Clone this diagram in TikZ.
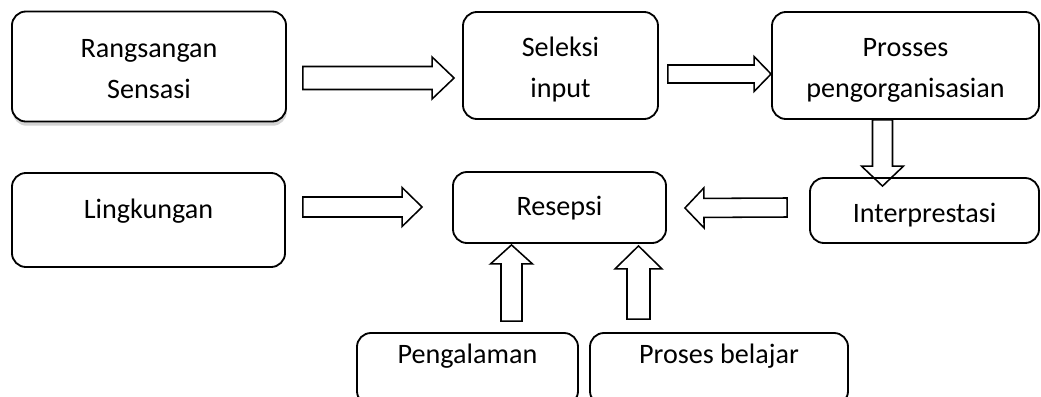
\documentclass[tikz,border=0pt]{standalone}
\usepackage{fontspec}
\setmainfont{Carlito}
\usepackage{tikz}
\usetikzlibrary{calc,shadows}

\tikzset{
	blok/.style={draw, fill=white, line width=1.3pt, rounded corners=0.35cm, align=center, inner sep=0pt, font=\fontsize{20}{29.2}\selectfont},
	fat/.style args={#1/#2/#3}{line width=1.1pt, to path={
		(\tikztostart) coordinate (fs) (\tikztotarget) coordinate (ft)
		($(ft)!#3*0.7113pt!(fs)$) coordinate (fb)
		($(fs)!#1*0.7113pt!90:(ft)$) -- ($(fb)!#1*0.7113pt!90:(ft)$) -- ($(fb)!#2*0.7113pt!90:(ft)$) -- (ft)
		-- ($(fb)!#2*0.7113pt!-90:(ft)$) -- ($(fb)!#1*0.7113pt!-90:(ft)$) -- ($(fs)!#1*0.7113pt!-90:(ft)$) -- cycle}}
}

\begin{document}
\begin{tikzpicture}[x=0.025cm, y=-0.025cm]
		\useasboundingbox (0,0) rectangle (1041,396);
		\clip (0,0) rectangle (1041,396);
		\node[blok, drop shadow={opacity=0.35, shadow xshift=0.5pt, shadow yshift=-3pt}, minimum width=6.85cm, minimum height=2.75cm, text height=1.75cm, text depth=0.15cm] (rang) at (149,66.5) {Rangsangan\\Sensasi};
		\node[blok, minimum width=4.875cm, minimum height=2.675cm, text height=1.75cm, text depth=0.15cm] (sel) at (560.5,65.5) {Seleksi\\input};
		\node[blok, minimum width=6.675cm, minimum height=2.675cm, text height=1.75cm, text depth=0.15cm] (pros) at (905.5,65.5) {Prosses\\pengorganisasian};
		\node[blok, minimum width=5.725cm, minimum height=1.625cm, text height=0.65cm, text depth=0.075cm] (interp) at (924.5,210.5) {Interprestasi};
		\node[blok, minimum width=5.325cm, minimum height=1.775cm, text height=0.5cm, text depth=0.125cm] (res) at (559.5,207.5) {Resepsi};
		\node[blok, minimum width=6.825cm, minimum height=2.35cm, text height=0.5cm, text depth=0.6cm] (ling) at (148.5,220) {Lingkungan};
		\node[blok, minimum width=5.525cm, minimum height=1.8cm, text height=0.5cm, text depth=0.8cm] (peng) at (467.5,369) {Pengalaman};
		\node[blok, minimum width=6.45cm, minimum height=1.8cm, text height=0.5cm, text depth=0.8cm] (bel) at (719,369) {Proses belajar};
		
		\draw[fat=11.5/21/22] ([shift={(16,11.5)}]rang.east) to ([shift={(-8,12.5)}]sel.west);
		\draw[fat=9/17.5/17] ([shift={(9,8.5)}]sel.east) to ([shift={(0,8.5)}]pros.west);
		\draw[fat=10/21/20] ([shift={(-23,0)}]pros.south) to ([shift={(-42,9)}]interp.north);
		\draw[fat=9.5/20/19] ([shift={(-22,-3)}]interp.west) to ([shift={(18,0.5)}]res.east);
		\draw[fat=10/19.5/20] ([shift={(17,-13)}]ling.east) to ([shift={(-30,-0.5)}]res.west);
		\draw[fat=10.5/21/19] ([shift={(44,-11)}]peng.north) to ([shift={(-48,1)}]res.south);
		\draw[fat=11.5/23.5/23] ([shift={(-80.5,-13)}]bel.north) to ([shift={(79,2)}]res.south);
\end{tikzpicture}
\end{document}
